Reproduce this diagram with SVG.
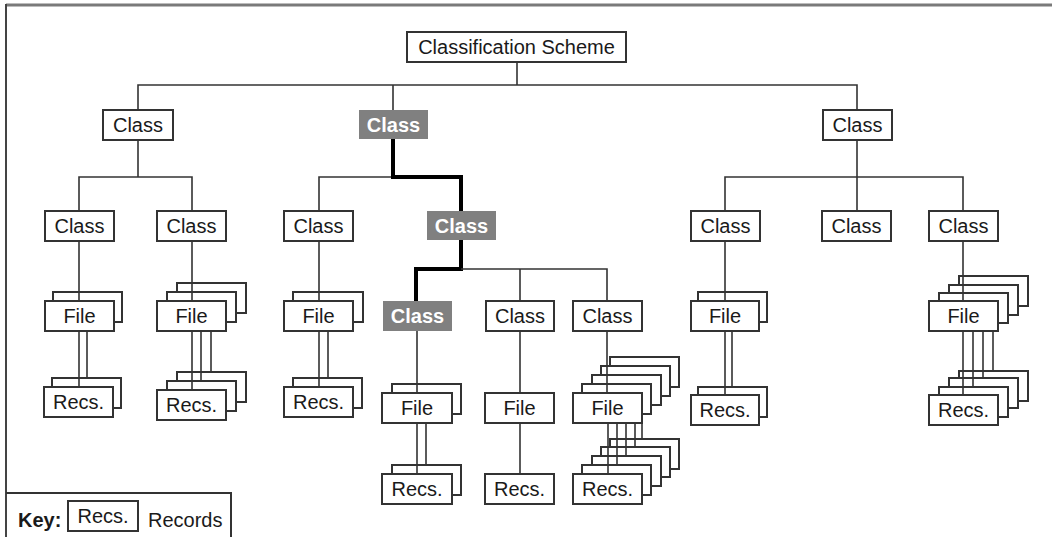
<svg xmlns="http://www.w3.org/2000/svg" width="1052" height="537" viewBox="0 0 1052 537">
<style>
.b{fill:#fff;stroke:#333;stroke-width:2}
.g{fill:#808080;stroke:none}
.t{font-family:"Liberation Sans",Arial,sans-serif;font-size:20px;fill:#1a1a1a;text-anchor:middle}
.tw{font-family:"Liberation Sans",Arial,sans-serif;font-size:20px;font-weight:bold;fill:#fff;text-anchor:middle}
.c{fill:none;stroke:#333;stroke-width:1.6}
.k{fill:none;stroke:#000;stroke-width:4;stroke-linejoin:miter}
</style>
<rect width="1052" height="537" fill="#fff"/>
<g id="frame">
<line x1="6" y1="5" x2="1052" y2="5" stroke="#7a7a7a" stroke-width="3"/>
<line x1="6" y1="4" x2="6" y2="537" stroke="#444" stroke-width="2"/>
</g>
<g id="root"><rect class="b" x="407" y="32" width="219" height="30"/><text class="t" x="516.5" y="54">Classification Scheme</text></g>
<g id="c1"><rect class="b" x="103" y="110" width="70" height="30"/><text class="t" x="138" y="132">Class</text></g>
<g id="c2"><rect class="g" x="359" y="110" width="69" height="29"/><text class="tw" x="393.5" y="132">Class</text></g>
<g id="c3"><rect class="b" x="823" y="110" width="69" height="30"/><text class="t" x="857.5" y="132">Class</text></g>
<g id="c11"><rect class="b" x="45" y="211" width="69" height="30"/><text class="t" x="79.5" y="233">Class</text></g>
<g id="c12"><rect class="b" x="157" y="211" width="69" height="30"/><text class="t" x="191.5" y="233">Class</text></g>
<g id="c21"><rect class="b" x="284" y="211" width="69" height="30"/><text class="t" x="318.5" y="233">Class</text></g>
<g id="c22"><rect class="g" x="427" y="211" width="69" height="29"/><text class="tw" x="461.5" y="233">Class</text></g>
<g id="c31"><rect class="b" x="691" y="211" width="69" height="30"/><text class="t" x="725.5" y="233">Class</text></g>
<g id="c32"><rect class="b" x="822" y="211" width="69" height="30"/><text class="t" x="856.5" y="233">Class</text></g>
<g id="c33"><rect class="b" x="929" y="211" width="69" height="30"/><text class="t" x="963.5" y="233">Class</text></g>
<g id="c221"><rect class="g" x="383" y="301" width="69" height="30"/><text class="tw" x="417.5" y="323">Class</text></g>
<g id="c222"><rect class="b" x="486" y="301" width="68" height="30"/><text class="t" x="520" y="323">Class</text></g>
<g id="c223"><rect class="b" x="573" y="301" width="69" height="30"/><text class="t" x="607.5" y="323">Class</text></g>
<g id="fileA"><rect class="b" x="53" y="292" width="69" height="30"/><rect class="b" x="45" y="301" width="69" height="30"/><text class="t" x="79.5" y="323">File</text></g>
<g id="recsA"><rect class="b" x="52" y="378" width="69" height="30"/><rect class="b" x="44" y="387" width="69" height="30"/><text class="t" x="78.5" y="409">Recs.</text></g>
<g id="fileB"><rect class="b" x="177" y="283" width="69" height="30"/><rect class="b" x="167" y="292" width="69" height="30"/><rect class="b" x="157" y="301" width="69" height="30"/><text class="t" x="191.5" y="323">File</text></g>
<g id="recsB"><rect class="b" x="177" y="372" width="69" height="30"/><rect class="b" x="167" y="381" width="69" height="30"/><rect class="b" x="157" y="390" width="69" height="30"/><text class="t" x="191.5" y="412">Recs.</text></g>
<g id="fileC"><rect class="b" x="293" y="292" width="70" height="30"/><rect class="b" x="284" y="301" width="69" height="30"/><text class="t" x="318.5" y="323">File</text></g>
<g id="recsC"><rect class="b" x="293" y="378" width="69" height="30"/><rect class="b" x="284" y="387" width="69" height="30"/><text class="t" x="318.5" y="409">Recs.</text></g>
<g id="fileD"><rect class="b" x="392" y="384" width="69" height="30"/><rect class="b" x="382" y="393" width="70" height="30"/><text class="t" x="417" y="415">File</text></g>
<g id="recsD"><rect class="b" x="392" y="465" width="69" height="30"/><rect class="b" x="382" y="474" width="70" height="30"/><text class="t" x="417" y="496">Recs.</text></g>
<g id="fileE"><rect class="b" x="485" y="393" width="69" height="30"/><text class="t" x="519.5" y="415">File</text></g>
<g id="recsE"><rect class="b" x="485" y="474" width="69" height="30"/><text class="t" x="519.5" y="496">Recs.</text></g>
<g id="fileF"><rect class="b" x="610" y="357" width="69" height="30"/><rect class="b" x="601" y="366" width="69" height="30"/><rect class="b" x="592" y="375" width="69" height="30"/><rect class="b" x="582" y="384" width="69" height="30"/><rect class="b" x="573" y="393" width="69" height="30"/><text class="t" x="607.5" y="415">File</text></g>
<g id="recsF"><rect class="b" x="610" y="439" width="69" height="30"/><rect class="b" x="601" y="447" width="69" height="30"/><rect class="b" x="592" y="456" width="69" height="30"/><rect class="b" x="582" y="465" width="69" height="30"/><rect class="b" x="573" y="474" width="69" height="30"/><text class="t" x="607.5" y="496">Recs.</text></g>
<g id="fileG"><rect class="b" x="698" y="292" width="69" height="30"/><rect class="b" x="691" y="301" width="68" height="30"/><text class="t" x="725" y="323">File</text></g>
<g id="recsG"><rect class="b" x="698" y="387" width="69" height="30"/><rect class="b" x="691" y="395" width="68" height="30"/><text class="t" x="725" y="417">Recs.</text></g>
<g id="fileH"><rect class="b" x="959" y="276" width="69" height="30"/><rect class="b" x="949" y="285" width="69" height="30"/><rect class="b" x="939" y="293" width="69" height="30"/><rect class="b" x="929" y="301" width="69" height="30"/><text class="t" x="963.5" y="323">File</text></g>
<g id="recsH"><rect class="b" x="959" y="371" width="69" height="30"/><rect class="b" x="949" y="378" width="69" height="30"/><rect class="b" x="939" y="387" width="69" height="30"/><rect class="b" x="929" y="395" width="69" height="30"/><text class="t" x="963.5" y="417">Recs.</text></g>
<g id="connectors">
<path class="c" d="M517 62V85" stroke-width="2.5"/>
<path class="c" d="M138 110V85H857V110M393 85V110"/>
<path class="c" d="M138 140V177M79 211V177H192V211"/>
<path class="c" d="M319 211V177H393"/>
<path class="k" d="M393 139V177H461V211"/>
<path class="c" d="M857 140V211M725 211V177H963V211"/>
<path class="c" d="M79 241V301M192 241V301M319 241V301M725 241V301M963 241V301"/>
<path class="k" d="M461 240V269H416V301"/>
<path class="c" d="M461 269H607V301M520 269V301"/>
<path class="c" d="M417 331V393M520 331V393M607 331V393"/>
<path class="c" d="M79 331V387M87 331V378"/>
<path class="c" d="M192 331V390M201 331V381M211 331V372"/>
<path class="c" d="M319 331V387M328 331V378"/>
<path class="c" d="M417 423V474M426 423V465"/>
<path class="c" d="M520 423V474"/>
<path class="c" d="M608 423V474M617 423V465M626 423V456M635 423V447M642 420V439"/>
<path class="c" d="M725 331V395M732 331V387"/>
<path class="c" d="M963 331V395M973 331V387M983 331V378M993 331V371"/>
</g>
<g id="key">
<path d="M6 493H231V537" fill="none" stroke="#333" stroke-width="2"/>
<text x="18" y="527" font-family="'Liberation Sans',Arial,sans-serif" font-size="20" font-weight="bold" fill="#1a1a1a">Key:</text>
<rect class="b" x="68" y="501" width="70" height="30"/>
<text class="t" x="103" y="523">Recs.</text>
<text x="148" y="527" font-family="'Liberation Sans',Arial,sans-serif" font-size="20" fill="#1a1a1a">Records</text>
</g>
</svg>
